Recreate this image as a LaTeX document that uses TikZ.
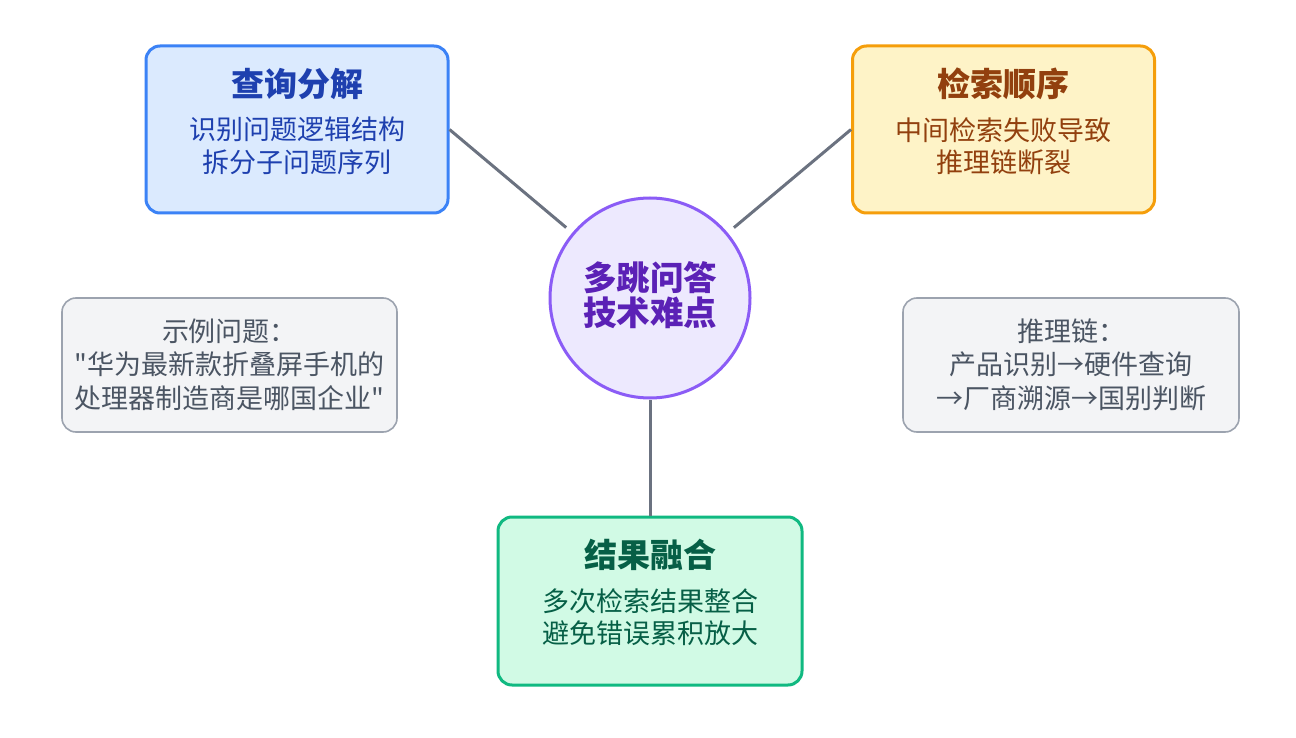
\documentclass[tikz,border=0pt]{standalone}
\usepackage{fontspec}
\setmainfont{Noto Sans CJK SC}
\newfontfamily\cjk{Noto Sans CJK SC}
\definecolor{bluefill}{HTML}{DBEAFE}
\definecolor{bluedraw}{HTML}{3B82F6}
\definecolor{bluetext}{HTML}{1E40AF}
\definecolor{ambfill}{HTML}{FEF3C7}
\definecolor{ambdraw}{HTML}{F59E0B}
\definecolor{ambtext}{HTML}{92400E}
\definecolor{grnfill}{HTML}{D1FAE5}
\definecolor{grndraw}{HTML}{10B981}
\definecolor{grntext}{HTML}{065F46}
\definecolor{purfill}{HTML}{EDE9FE}
\definecolor{purdraw}{HTML}{8B5CF6}
\definecolor{purtext}{HTML}{5B21B6}
\definecolor{notefill}{HTML}{F3F4F6}
\definecolor{notedraw}{HTML}{9CA3AF}
\definecolor{notetext}{HTML}{4B5563}
\definecolor{linkcol}{HTML}{6B7280}
\tikzset{
  card/.style={rectangle, rounded corners=14pt, line width=3pt, minimum width=302pt, minimum height=167pt, inner sep=0pt},
  notebox/.style={rectangle, rounded corners=14pt, line width=1.6pt, draw=notedraw, fill=notefill, minimum width=335pt, minimum height=134pt, inner sep=0pt},
  ttl/.style={font=\cjk\bfseries\fontsize{33}{38}\selectfont, inner sep=0pt},
  bdy/.style={font=\cjk\fontsize{27}{32.5}\selectfont, align=center, inner sep=0pt},
  link/.style={draw=linkcol, line width=3pt}
}
\begin{document}
\begin{tikzpicture}[x=1pt,y=-1pt]
\useasboundingbox (0,0) rectangle (1296,738);
\fill[white] (0,0) rectangle (1296,738);
% center circle
\node[circle, draw=purdraw, fill=purfill, line width=3pt, minimum size=200pt, inner sep=0pt] (hub) at (650,298) {};
\node[ttl, text=purtext, align=center, font=\cjk\bfseries\fontsize{33.5}{34.5}\selectfont] (hubtxt) at (650,295) {多跳问答\\技术难点};
% box 1
\node[card, draw=bluedraw, fill=bluefill] (qd) at (297,129.5) {};
\node[ttl, text=bluetext] (qdt) at (297,84) {查询分解};
\node[bdy, text=bluetext] (qdb) at (297,146) {识别问题逻辑结构\\拆分子问题序列};
% box 2
\node[card, draw=ambdraw, fill=ambfill] (ro) at (1003.5,129.5) {};
\node[ttl, text=ambtext] (rot) at (1003.5,84) {检索顺序};
\node[bdy, text=ambtext] (rob) at (1003.5,146) {中间检索失败导致\\推理链断裂};
% box 3
\node[card, draw=grndraw, fill=grnfill, minimum width=304pt, minimum height=168pt] (rf) at (650,601) {};
\node[ttl, text=grntext] (rft) at (650,555) {结果融合};
\node[bdy, text=grntext] (rfb) at (650,617) {多次检索结果整合\\避免错误累积放大};
% notes
\node[notebox] (n1) at (229.5,365) {};
\node[bdy, text=notetext, font=\cjk\fontsize{27}{33.5}\selectfont] (n1t) at (229.5,364.5) {示例问题：\\"华为最新款折叠屏手机的\\处理器制造商是哪国企业"};
\node[notebox, minimum width=336pt] (n2) at (1071,365) {};
\node[bdy, text=notetext, font=\cjk\fontsize{27}{33.5}\selectfont] (n2t) at (1071,364.5) {推理链：\\产品识别→硬件查询\\→厂商溯源→国别判断};
% links
\draw[link, shorten >=8pt] (qd.east) -- (hub);
\draw[link, shorten >=8pt] (ro.west) -- (hub);
\draw[link] (hub.south) -- (rf.north);
\end{tikzpicture}
\end{document}
